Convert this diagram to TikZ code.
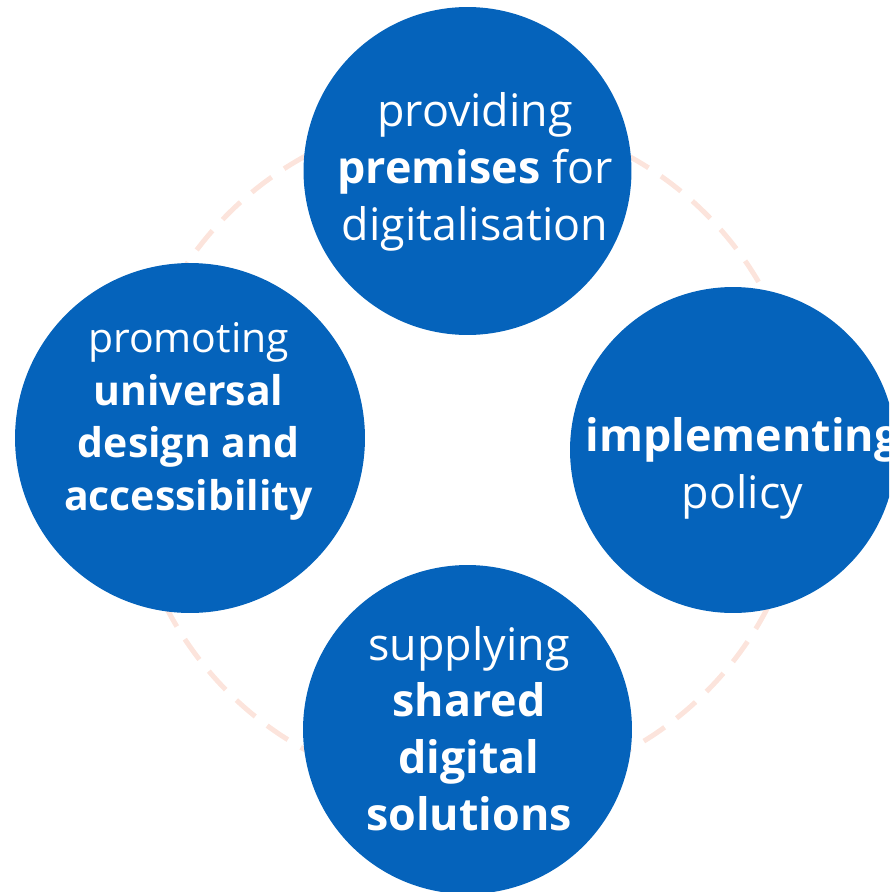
\documentclass[tikz,border=0pt]{standalone}
\usepackage{fontspec}
\setmainfont{Open Sans}
\definecolor{bubbleblue}{RGB}{5,99,187}
\definecolor{ringpeach}{RGB}{252,228,220}
\tikzset{
  bubble/.style={circle,fill=bubbleblue,inner sep=0pt,minimum size=#1},
  ring/.style={draw=ringpeach,line width=0.1cm,dash pattern=on 0.5cm off 0.3cm},
  bigtext/.style={text=white,align=center,anchor=base,font=\fontsize{25.5pt}{32.2pt}\selectfont},
  smalltext/.style={text=white,align=center,anchor=base,font=\fontsize{23.3pt}{29.8pt}\selectfont}
}
\begin{document}
\begin{tikzpicture}[x=0.02cm,y=-0.02cm]
\useasboundingbox (0,0) rectangle (889,892);
\clip (0,0) rectangle (889,892);
\draw[ring] (467,453) circle [radius=338];

\node[bubble=6.56cm] (premises) at (467.5,171) {};
\node[bubble=7cm] (universal) at (190,438) {};
\node[bubble=6.52cm] (policy) at (733,450) {};
\node[bubble=6.58cm] (shared) at (467.5,729.5) {};

\node[bigtext] (premisestext) at (475,240) {providing\\\textbf{premises} for\\digitalisation};
\node[smalltext] (universaltext) at (188.5,510) {promoting\\\textbf{universal}\\\textbf{design and}\\\textbf{accessibility}};
\node[bigtext] (policytext) at (742.5,508) {\textbf{implementing}\\policy};
\node[bigtext] (sharedtext) at (469,830) {supplying\\\textbf{shared}\\\textbf{digital}\\\textbf{solutions}};
\end{tikzpicture}
\end{document}
